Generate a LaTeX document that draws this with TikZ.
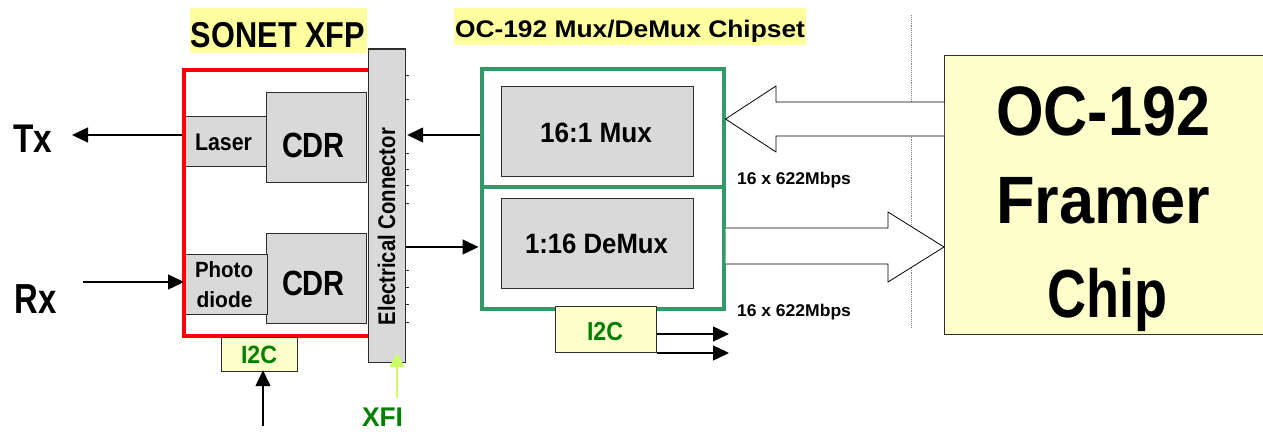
\documentclass[tikz,border=0pt]{standalone}
\usepackage{fontspec}
\setmainfont{Liberation Sans}
\usepackage{graphicx}
\usetikzlibrary{arrows.meta}
\definecolor{hl}{RGB}{255,255,160}
\definecolor{pale}{RGB}{255,255,204}
\definecolor{gbox}{RGB}{217,217,217}
\definecolor{tealg}{RGB}{51,153,102}
\definecolor{dgreen}{RGB}{0,128,0}
\definecolor{lgreen}{RGB}{204,255,102}
\definecolor{edge}{RGB}{45,45,45}
\newcommand\fw[3]{\fontsize{#1}{#1}\selectfont\bfseries\resizebox{#2pt}{\height}{#3}}
\begin{document}
\begin{tikzpicture}[x=1pt,y=-1pt,
  box/.style={draw=edge, line width=1.2pt, fill=gbox, inner sep=0, anchor=north west},
  palebox/.style={draw=edge, line width=1.2pt, fill=pale, inner sep=0, anchor=north west},
  hlbox/.style={fill=hl, inner sep=0, anchor=north west},
  lbl/.style={inner sep=0, anchor=base},
  arr/.style={line width=1.4pt, -{Triangle[length=16pt,width=15pt]}},
  bigarrow/.style={draw=black, line width=0.8pt, fill=white},
]
\clip (0,0) rectangle (1263,431);
\fill[white] (0,0) rectangle (1263,431);

% title highlights
\node[hlbox, minimum width=177pt, minimum height=45pt] (xfph) at (190,8) {};
\node[lbl] (xfpt) at (278,47) {\fw{36}{174}{SONET XFP}};
\node[hlbox, minimum width=352pt, minimum height=37pt] (chiph) at (454,8) {};
\node[lbl] (chipt) at (630,37) {\fw{24}{350}{OC-192 Mux/DeMux Chipset}};

% dotted separator
\draw[densely dotted, gray, line width=0.9pt] (911,15) -- (911,327);

% XFP internals
\node[box, minimum width=100pt, minimum height=90pt] (cdr1) at (266,92) {};
\node[box, minimum width=84pt, minimum height=50pt] (laser) at (182,116) {};
\node[box, minimum width=100pt, minimum height=90pt] (cdr2) at (266,233) {};
\node[box, minimum width=83pt, minimum height=60pt] (pd) at (184,254) {};
\node[lbl] (cdr1t) at (313.5,157) {\fw{35}{63}{CDR}};
\node[lbl] (cdr2t) at (313.5,295) {\fw{35}{63}{CDR}};
\node[lbl] (lasert) at (223.5,150) {\fw{24}{57}{Laser}};
\node[lbl] (pdt1) at (224,277) {\fw{22}{58}{Photo}};
\node[lbl] (pdt2) at (224.5,307) {\fw{22}{56}{diode}};
\node[draw=red, line width=4pt, inner sep=0, anchor=north west, minimum width=186pt, minimum height=266pt] (xfp) at (182,68) {};

% electrical connector
\node[box, minimum width=37pt, minimum height=313pt] (conn) at (368,49) {};
\draw[edge, line width=2.6pt] (conn.north west) -- (conn.north east);
\foreach \t in {75,99,153,169,185,203,270,287,304,322}
  \draw[edge, line width=1pt] (405,\t) -- (409,\t);
\node[lbl, rotate=90] (connt) at (395,226.5) {\fw{24}{197}{Electrical Connector}};

% I2C boxes
\node[palebox, minimum width=76pt, minimum height=34pt] (i2c1) at (221,337) {};
\node[lbl, text=dgreen] (i2c1t) at (259,363) {\fw{25}{36}{I2C}};

% chipset
\node[box, minimum width=192pt, minimum height=90pt] (mux) at (501,86) {};
\node[box, minimum width=192pt, minimum height=90pt] (demux) at (501,198) {};
\node[lbl] (muxt) at (596,142) {\fw{28}{112}{16:1 Mux}};
\node[lbl] (demuxt) at (596.5,253) {\fw{28}{143}{1:16 DeMux}};
\node[draw=tealg, line width=3.5pt, inner sep=0, anchor=north west, minimum width=242pt, minimum height=240pt] (chipbox) at (480,67) {};
\coordinate (divy) at (0,187);
\draw[tealg, line width=3.5pt] (chipbox.west |- divy) -- (chipbox.east |- divy);
\node[palebox, minimum width=101pt, minimum height=46pt] (i2c2) at (555,306) {};
\node[lbl, text=dgreen] (i2c2t) at (605,340) {\fw{26}{36}{I2C}};

% framer
\node[palebox, minimum width=330pt, minimum height=279pt] (framer) at (944,55) {};
\node[lbl] (fr1) at (1103,135) {\fw{70}{214}{OC-192}};
\node[lbl] (fr2) at (1103,223) {\fw{67}{214}{Framer}};
\node[lbl] (fr3) at (1107,317) {\fw{68}{120}{Chip}};

% big hollow arrows
\draw[bigarrow] (framer.west |- 0,102) -- (776,102) -- (776,86) -- (chipbox.east |- 0,119) -- (776,152) -- (776,136) -- (framer.west |- 0,136);
\draw[bigarrow] (chipbox.east |- 0,228) -- (888,228) -- (888,212) -- (framer.west |- 0,247) -- (888,282) -- (888,264) -- (chipbox.east |- 0,264);
\node[lbl] (rate1) at (794,184) {\fw{17}{114}{16 x 622Mbps}};
\node[lbl] (rate2) at (794,316) {\fw{17}{114}{16 x 622Mbps}};

% Tx / Rx
\node[lbl] (txt) at (32.5,152) {\fw{40}{39}{Tx}};
\node[lbl] (rxt) at (36,313) {\fw{42}{42}{Rx}};
\coordinate (txend) at (72,135);
\coordinate (rxstart) at (83,282);
\draw[arr] (laser.west |- txend) -- (txend);
\draw[arr] (rxstart) -- (pd.west |- rxstart);

% connector links
\coordinate (muxy) at (0,135);
\coordinate (demy) at (0,247);
\draw[arr] (chipbox.west |- muxy) -- ([xshift=1pt]conn.east |- muxy);
\draw[arr] (conn.east |- demy) -- ([xshift=-1.5pt]chipbox.west |- demy);

% I2C control arrows
\coordinate (i2cin) at (263,426);
\draw[arr] (i2cin) -- ([yshift=2pt]i2c1.south -| i2cin);
\coordinate (a1) at (729,334);
\coordinate (a2) at (729,353);
\draw[arr] (i2c2.east |- a1) -- (a1);
\draw[arr] (i2c2.east |- a2) -- (a2);

% XFI
\coordinate (xfis) at (397,398);
\draw[lgreen, line width=2.2pt, -{Triangle[length=14pt,width=15pt]}] (xfis) -- ([yshift=10pt]conn.south -| xfis);
\node[lbl, text=dgreen] (xfit) at (382.5,426) {\fw{27}{41}{XFI}};
\end{tikzpicture}
\end{document}
